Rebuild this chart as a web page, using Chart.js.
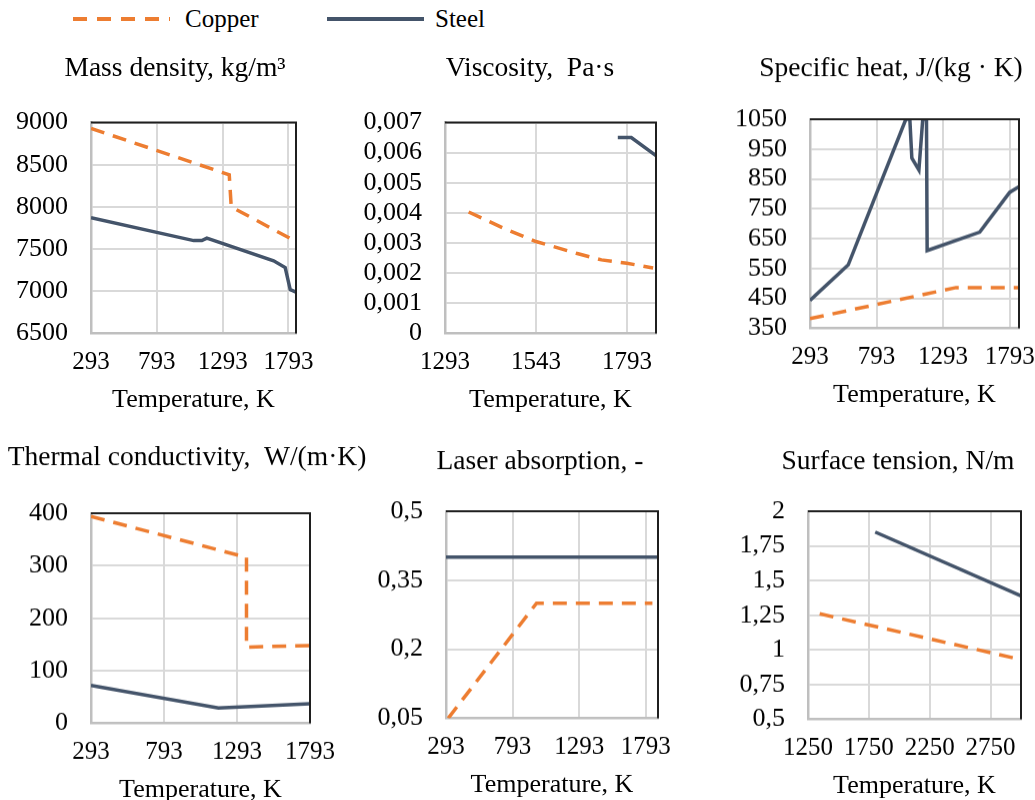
<!DOCTYPE html>
<html>
<head>
<meta charset="utf-8">
<script src="https://cdn.jsdelivr.net/npm/chart.js@4.4.1/dist/chart.umd.min.js"></script>
<style>
  html, body { margin: 0; padding: 0; background: #fff; overflow: hidden; }
  body { width: 1035px; height: 800px; position: relative; font-family: "Liberation Serif", "Times New Roman", serif; }
  canvas { position: absolute; }
  .lbl { position: absolute; top: 4px; font-size: 25px; line-height: 30px; color: #000; }
  .key { position: absolute; top: 17px; height: 4px; width: 97px; }
</style>
</head>
<body>
<div class="key" style="left:73px; background: repeating-linear-gradient(to right, #ED7D31 0 14px, transparent 14px 24px);"></div>
<div class="lbl" style="left:185px;">Copper</div>
<div class="key" style="left:327px; background:#44546A;"></div>
<div class="lbl" style="left:435px;">Steel</div>

<canvas id="c1"></canvas>
<canvas id="c2"></canvas>
<canvas id="c3"></canvas>
<canvas id="c4"></canvas>
<canvas id="c5"></canvas>
<canvas id="c6"></canvas>

<script>
// ---- data ----
const densityX = [293, 793, 1293, 1793];
const densityY = [6500, 7000, 7500, 8000, 8500, 9000];
const densityT_cu = [293, 1343, 1358, 1813];
const density_cu = [8930, 8380, 8000, 7620];
const densityT_st = [293, 1073, 1135, 1173, 1680, 1768, 1806, 1849];
const density_st = [7870, 7600, 7600, 7630, 7360, 7280, 7020, 6990];

const viscX = [1293, 1543, 1793];
const viscY = [0, 0.001, 0.002, 0.003, 0.004, 0.005, 0.006, 0.007];
const viscT_cu = [1358, 1458, 1543, 1654, 1723, 1793, 1865];
const visc_cu = [0.00403, 0.00347, 0.00305, 0.00266, 0.00244, 0.00233, 0.00217];
const viscT_st = [1768, 1805, 1873];
const visc_st = [0.0065, 0.0065, 0.0059];

const heatX = [293, 793, 1293, 1793];
const heatY = [350, 450, 550, 650, 750, 850, 950, 1050];
const heatT_cu = [293, 1390, 1863];
const heat_cu = [382, 486, 486];
const heatT_st = [293, 580, 1013, 1043, 1058, 1111, 1140, 1168, 1173, 1568, 1793, 1863];
const heat_st = [443, 562, 1050, 1050, 920, 880, 1050, 1050, 610, 672, 805, 824];

const condX = [293, 793, 1293, 1793];
const condY = [0, 100, 200, 300, 400];
const condT_cu = [293, 1358, 1358, 1793];
const cond_cu = [394, 316, 145, 148];
const condT_st = [293, 1166, 1793];
const cond_st = [72, 29, 37];

const absX = [293, 793, 1293, 1793];
const absY = [0.05, 0.2, 0.35, 0.5];
const absT_cu = [310, 973, 1843];
const abs_cu = [0.05, 0.3, 0.3];
const absT_st = [293, 1885];
const abs_st = [0.4, 0.4];

const tensX = [1250, 1750, 2250, 2750];
const tensY = [0.5, 0.75, 1, 1.25, 1.5, 1.75, 2];
const tensT_cu = [1346, 3000];
const tens_cu = [1.26, 0.93];
const tensT_st = [1802, 3000];
const tens_st = [1.85, 1.39];

const COPPER = '#ED7D31';
const STEEL = '#44546A';
const FONT = "'Liberation Serif', 'Times New Roman', serif";

Chart.defaults.font.family = FONT;
Chart.defaults.color = '#000';

const pts = (xs, ys) => xs.map((x, i) => ({ x: x, y: ys[i] }));
const fmt = v => String(v).replace('.', ',');

// top and right edge of the plot area are dark in the original
const frame = {
  id: 'frame',
  afterDatasetsDraw(chart) {
    const { ctx, chartArea: a } = chart;
    ctx.save();
    ctx.strokeStyle = '#1f1f1f';
    ctx.lineWidth = 2;
    ctx.beginPath();
    ctx.moveTo(a.left, a.top);
    ctx.lineTo(a.right, a.top);
    ctx.lineTo(a.right, a.bottom);
    ctx.stroke();
    ctx.restore();
  }
};

const panels = [
  { id: 'c1', title: 'Mass density, kg/m³', cx: 175, w: 350, ty: 68.5, plot: [91, 296, 122, 333],
    xTicks: densityX, xMax: 1850, yTicks: densityY,
    cu: pts(densityT_cu, density_cu), st: pts(densityT_st, density_st) },
  { id: 'c2', title: 'Viscosity,  Pa·s', cx: 530, w: 350, ty: 68.5, plot: [445, 656, 122, 333],
    xTicks: viscX, xMax: 1873, yTicks: viscY,
    cu: pts(viscT_cu, visc_cu), st: pts(viscT_st, visc_st) },
  { id: 'c3', title: 'Specific heat, J/(kg · K)', cx: 891, w: 332, ty: 69, plot: [810, 1019, 119, 328],
    xTicks: heatX, xMax: 1863, yTicks: heatY,
    cu: pts(heatT_cu, heat_cu), st: pts(heatT_st, heat_st) },
  { id: 'c4', title: 'Thermal conductivity,  W/(m·K)', cx: 187, w: 374, ty: 458, plot: [91, 310, 513, 723],
    xTicks: condX, xMax: 1793, yTicks: condY,
    cu: pts(condT_cu, cond_cu), st: pts(condT_st, cond_st) },
  { id: 'c5', title: 'Laser absorption, -', cx: 540, w: 340, ty: 462, plot: [446, 658, 511, 718],
    xTicks: absX, xMax: 1885, yTicks: absY,
    cu: pts(absT_cu, abs_cu), st: pts(absT_st, abs_st) },
  { id: 'c6', title: 'Surface tension, N/m', cx: 898, w: 326, ty: 462, plot: [808, 1021, 511, 719],
    xTicks: tensX, xMax: 3000, yTicks: tensY,
    cu: pts(tensT_cu, tens_cu), st: pts(tensT_st, tens_st) }
];

const titleSize = 27.5, titleLH = titleSize * 1.2;
const axisTitleSize = 26, axisTitleLH = axisTitleSize * 1.2;
const xTickSize = 25, yTickSize = 26;
const axisTitleGap = 67;

panels.forEach(p => {
  const [pl, pr, pt, pb] = p.plot;
  const left = p.cx - p.w / 2;
  const top = p.ty - 30;
  const xH = axisTitleGap + axisTitleLH / 2;
  const h = pb + xH - top;
  const padTop = p.ty - top - titleLH / 2;
  const padBottom = pt - p.ty - titleLH / 2;

  const cv = document.getElementById(p.id);
  cv.style.left = left + 'px';
  cv.style.top = top + 'px';
  cv.width = p.w;
  cv.height = h;
  cv.style.width = p.w + 'px';
  cv.style.height = h + 'px';

  new Chart(cv, {
    type: 'scatter',
    data: {
      datasets: [
        { label: 'Copper', data: p.cu, borderColor: COPPER, backgroundColor: COPPER,
          borderDash: [14, 9], borderWidth: 3.5, showLine: true, pointRadius: 0, yAxisID: 'y' },
        { label: 'Steel', data: p.st, borderColor: STEEL, backgroundColor: STEEL,
          borderWidth: 3.5, showLine: true, pointRadius: 0, yAxisID: 'y' }
      ]
    },
    options: {
      responsive: false,
      animation: false,
      layout: { padding: 0 },
      plugins: {
        legend: { display: false },
        tooltip: { enabled: false },
        title: {
          display: true,
          text: p.title,
          color: '#000',
          font: { family: FONT, size: titleSize, weight: 'normal' },
          padding: { top: padTop, bottom: padBottom }
        }
      },
      scales: {
        x: {
          type: 'linear',
          min: p.xTicks[0],
          max: p.xMax,
          afterBuildTicks: s => { s.ticks = p.xTicks.map(v => ({ value: v })); },
          afterFit: s => { s.height = xH; },
          grid: { color: '#d9d9d9', lineWidth: 2, drawTicks: false },
          border: { color: '#bfbfbf', width: 2.5 },
          ticks: { padding: 14, autoSkip: false, maxRotation: 0, minRotation: 0,
                   font: { size: xTickSize }, callback: v => fmt(v) },
          title: { display: true, text: 'Temperature, K', padding: 0,
                   font: { size: axisTitleSize } }
        },
        y: {
          type: 'linear',
          position: 'left',
          min: p.yTicks[0],
          max: p.yTicks[p.yTicks.length - 1],
          afterBuildTicks: s => { s.ticks = p.yTicks.map(v => ({ value: v })); },
          afterFit: s => { s.width = pl - left; },
          grid: { color: '#d9d9d9', lineWidth: 2, drawTicks: false },
          border: { color: '#bfbfbf', width: 2.5 },
          ticks: { padding: 23, autoSkip: false, font: { size: yTickSize }, callback: v => fmt(v) }
        },
        y2: {
          type: 'linear',
          position: 'right',
          afterFit: s => { s.width = left + p.w - pr; },
          grid: { display: false, drawTicks: false },
          border: { display: false },
          ticks: { display: false }
        }
      }
    },
    plugins: [frame]
  });
});
</script>
</body>
</html>
